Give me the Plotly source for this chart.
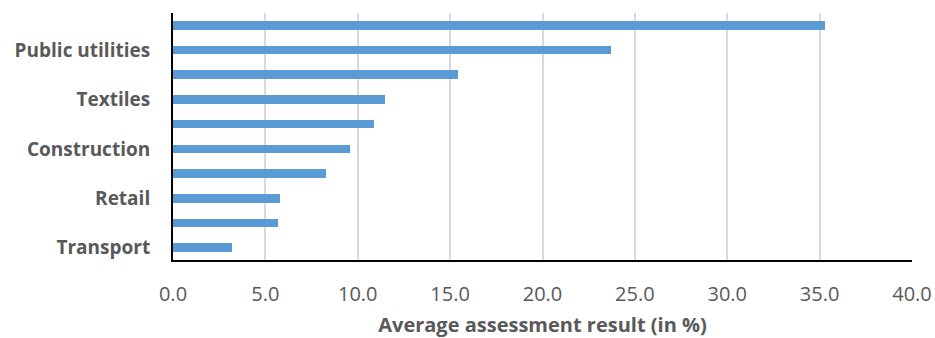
import plotly.graph_objects as go

# Sector ranking, bottom (rank 1) to top (rank 10); only every other sector is labelled
rank = [1, 2, 3, 4, 5, 6, 7, 8, 9, 10]
avg_result = [3.2, 5.7, 5.8, 8.3, 9.6, 10.9, 11.5, 15.4, 23.7, 35.3]

label_rank = [1, 3, 5, 7, 9]
label_text = ["Transport", "Retail", "Construction", "Textiles", "Public utilities"]

x_ticks = [0, 5, 10, 15, 20, 25, 30, 35, 40]
x_tick_text = [f"{v:.1f}" for v in x_ticks]

grey_text = "#595959"

fig = go.Figure(
    go.Bar(
        x=avg_result,
        y=rank,
        orientation="h",
        width=0.35,
        marker=dict(color="#5B9BD5", line=dict(width=0)),
    )
)

fig.update_layout(
    width=935,
    height=338,
    margin=dict(l=173, r=23, t=13, b=78),
    paper_bgcolor="white",
    plot_bgcolor="white",
    showlegend=False,
    bargap=0,
    xaxis=dict(
        range=[0, 40],
        tickvals=x_ticks,
        ticktext=x_tick_text,
        showgrid=True,
        gridcolor="#d9d9d9",
        gridwidth=2,
        zeroline=False,
        showline=True,
        linecolor="black",
        linewidth=2,
        ticks="outside",
        ticklen=15,
        tickcolor="rgba(0,0,0,0)",
        tickfont=dict(family="Open Sans", size=20, color=grey_text),
        title=dict(
            text="<b>Average assessment result (in %)</b>",
            font=dict(family="Open Sans", size=20, color=grey_text),
            standoff=17,
        ),
        automargin=False,
        fixedrange=True,
    ),
    yaxis=dict(
        range=[0.5, 10.5],
        tickvals=label_rank,
        ticktext=[f"<b>{t}</b>" for t in label_text],
        showgrid=False,
        zeroline=False,
        showline=True,
        linecolor="black",
        linewidth=2,
        ticks="",
        ticklabelstandoff=17,
        tickfont=dict(family="Open Sans", size=19, color=grey_text),
        automargin=False,
        fixedrange=True,
    ),
)

fig.write_html("out.html")
